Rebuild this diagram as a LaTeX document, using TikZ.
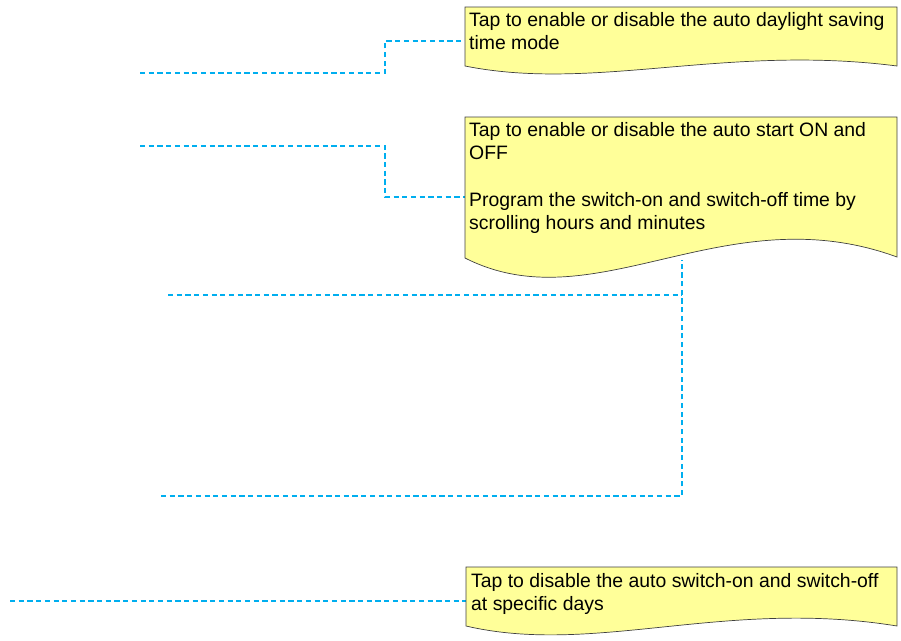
\documentclass[tikz,border=0pt]{standalone}
\usepackage{fontspec}
\setmainfont{Liberation Sans}
\definecolor{noteyellow}{RGB}{255,255,153}
\definecolor{linkblue}{RGB}{0,174,239}
\begin{document}
\begin{tikzpicture}[x=1pt,y=-1pt,
  note/.style={draw=black!75, fill=noteyellow, line width=0.7pt},
  txt/.style={anchor=base west, align=left, inner sep=0pt, font=\fontsize{19.4}{22.5}\selectfont, text=black},
  link/.style={draw=linkblue, line width=2.8pt, dash pattern=on 5.2pt off 3.5pt}]
\useasboundingbox (0,0) rectangle (901,640);

% connector end points
\coordinate (c1s) at (140,73);
\coordinate (n1w) at (465,41);
\coordinate (c2s) at (140,146);
\coordinate (n2w) at (465,197);
\coordinate (c3s) at (168,295);
\coordinate (c4s) at (161,496);
\coordinate (n2b) at (682,260);
\coordinate (c5s) at (10,601);
\coordinate (n3w) at (466,601);

% connectors
\draw[link] (c1s) -- ++(245,0) |- (n1w);
\draw[link] (c2s) -- ++(245,0) |- (n2w);
\draw[link] (c4s) -| (n2b);
\draw[link] (c3s) -- (c3s -| n2b);
\draw[link] (c5s) -- (n3w);

% note boxes
\draw[note] (465,7) -- (897,7) -- (897,66)
  .. controls (725,44) and (595,92) .. (465,66) -- cycle;
\draw[note] (465,117) -- (897,117) -- (897,257)
  .. controls (725,194) and (595,324) .. (465,258) -- cycle;
\draw[note] (466,567) -- (897,567) -- (897,626)
  .. controls (725,598) and (595,656) .. (466,626) -- cycle;

% texts (base anchor = baseline of the last line)
\node[txt] (t1) at (469,49) {Tap to enable or disable the auto daylight saving\\time mode};
\node[txt] (t2) at (469,159) {Tap to enable or disable the auto start ON and\\OFF};
\node[txt] (t3) at (469,229) {Program the switch-on and switch-off time by\\scrolling hours and minutes};
\node[txt] (t4) at (471,610) {Tap to disable the auto switch-on and switch-off\\at specific days};
\end{tikzpicture}
\end{document}
